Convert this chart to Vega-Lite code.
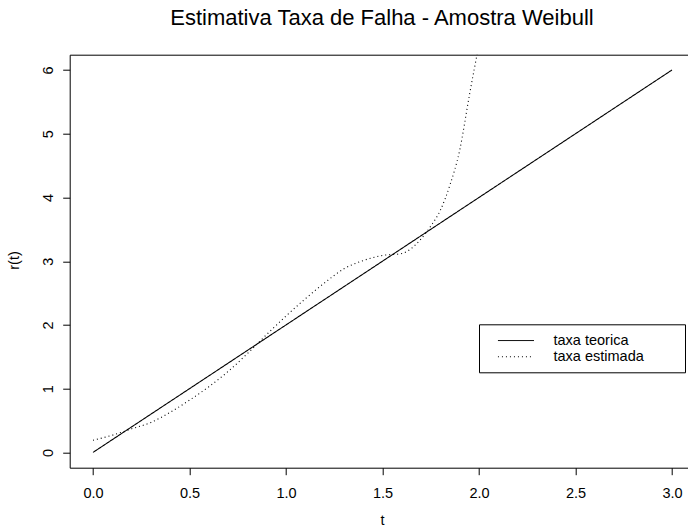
{
  "$schema": "https://vega.github.io/schema/vega-lite/v6.json",
  "autosize": {"type": "none"},
  "width": 618.3,
  "height": 413,
  "padding": {"left": 69.7, "top": 54.7, "right": 0, "bottom": 60.3},
  "background": "white",
  "config": {
    "view": {"stroke": null},
    "font": "Liberation Sans",
    "axis": {
      "domainColor": "black",
      "domainWidth": 1,
      "tickColor": "black",
      "tickWidth": 1,
      "tickSize": 7,
      "labelColor": "black",
      "labelFont": "Liberation Sans",
      "labelFontSize": 14.5,
      "titleColor": "black",
      "titleFont": "Liberation Sans",
      "titleFontSize": 14.5,
      "titleFontWeight": "normal",
      "grid": false
    },
    "legend": {
      "orient": "none",
      "strokeColor": "black",
      "fillColor": "white",
      "padding": 9,
      "cornerRadius": 0,
      "symbolType": "M-3,0H3",
      "symbolSize": 144,
      "symbolStrokeWidth": 1,
      "symbolOffset": 20.7,
      "labelFont": "Liberation Sans",
      "labelFontSize": 14.5,
      "labelColor": "black",
      "labelOffset": 30.3,
      "rowPadding": 1.2
    }
  },
  "title": {
    "text": "Estimativa Taxa de Falha - Amostra Weibull",
    "font": "Liberation Sans",
    "fontSize": 22,
    "fontWeight": "normal",
    "color": "black",
    "anchor": "middle",
    "frame": "group",
    "baseline": "middle",
    "offset": 2,
    "dx": 3.1
  },
  "datasets": {
    "curves": [
      {"t": 0.0, "r": 0.0, "serie": "taxa teorica"},
      {"t": 0.5, "r": 1.0, "serie": "taxa teorica"},
      {"t": 1.0, "r": 2.0, "serie": "taxa teorica"},
      {"t": 1.5, "r": 3.0, "serie": "taxa teorica"},
      {"t": 2.0, "r": 4.0, "serie": "taxa teorica"},
      {"t": 2.5, "r": 5.0, "serie": "taxa teorica"},
      {"t": 3.0, "r": 6.0, "serie": "taxa teorica"},
      {"t": 0.0, "r": 0.19, "serie": "taxa estimada"},
      {"t": 0.1, "r": 0.27, "serie": "taxa estimada"},
      {"t": 0.2, "r": 0.37, "serie": "taxa estimada"},
      {"t": 0.3, "r": 0.47, "serie": "taxa estimada"},
      {"t": 0.4, "r": 0.63, "serie": "taxa estimada"},
      {"t": 0.5, "r": 0.82, "serie": "taxa estimada"},
      {"t": 0.6, "r": 1.03, "serie": "taxa estimada"},
      {"t": 0.7, "r": 1.27, "serie": "taxa estimada"},
      {"t": 0.8, "r": 1.55, "serie": "taxa estimada"},
      {"t": 0.9, "r": 1.85, "serie": "taxa estimada"},
      {"t": 1.0, "r": 2.14, "serie": "taxa estimada"},
      {"t": 1.1, "r": 2.41, "serie": "taxa estimada"},
      {"t": 1.2, "r": 2.66, "serie": "taxa estimada"},
      {"t": 1.3, "r": 2.88, "serie": "taxa estimada"},
      {"t": 1.4, "r": 3.01, "serie": "taxa estimada"},
      {"t": 1.5, "r": 3.09, "serie": "taxa estimada"},
      {"t": 1.6, "r": 3.12, "serie": "taxa estimada"},
      {"t": 1.65, "r": 3.2, "serie": "taxa estimada"},
      {"t": 1.7, "r": 3.35, "serie": "taxa estimada"},
      {"t": 1.75, "r": 3.55, "serie": "taxa estimada"},
      {"t": 1.8, "r": 3.8, "serie": "taxa estimada"},
      {"t": 1.85, "r": 4.2, "serie": "taxa estimada"},
      {"t": 1.9, "r": 4.74, "serie": "taxa estimada"},
      {"t": 1.95, "r": 5.6, "serie": "taxa estimada"},
      {"t": 2.0, "r": 6.4, "serie": "taxa estimada"}
    ]
  },
  "data": {"name": "curves"},
  "layer": [
    {
      "mark": {"type": "line", "strokeWidth": 1.1, "interpolate": "monotone", "clip": true},
      "encoding": {
        "x": {
          "field": "t",
          "type": "quantitative",
          "scale": {"domain": [-0.1207, 3.083], "nice": false, "zero": false},
          "axis": {
            "values": [0, 0.5, 1, 1.5, 2, 2.5, 3],
            "format": ".1f",
            "labelBaseline": "middle",
            "labelPadding": 18.3,
            "labelFlush": false,
            "labelOverlap": false,
            "title": "t",
            "titleX": 312.3,
            "titleY": 52.3,
            "titleBaseline": "middle",
            "titleAlign": "center"
          }
        },
        "y": {
          "field": "r",
          "type": "quantitative",
          "scale": {"domain": [-0.24, 6.24], "nice": false, "zero": false},
          "axis": {
            "values": [0, 1, 2, 3, 4, 5, 6],
            "labelAngle": 270,
            "labelAlign": "center",
            "labelBaseline": "middle",
            "labelPadding": 13.7,
            "labelFlush": false,
            "labelOverlap": false,
            "title": "r(t)",
            "titleAngle": 270,
            "titleX": -54.7,
            "titleY": 205.3,
            "titleBaseline": "middle",
            "titleAlign": "center"
          }
        },
        "color": {
          "field": "serie",
          "type": "nominal",
          "scale": {"domain": ["taxa teorica", "taxa estimada"], "range": ["black", "black"]},
          "legend": {
            "legendX": 409.3,
            "legendY": 269.6,
            "title": " ",
            "titleOrient": "right",
            "titlePadding": 31.5,
            "titleFontSize": 10
          }
        },
        "strokeDash": {
          "field": "serie",
          "type": "nominal",
          "scale": {"domain": ["taxa teorica", "taxa estimada"], "range": [[1, 0], [1, 3]]},
          "legend": {
            "legendX": 409.3,
            "legendY": 269.6,
            "title": " ",
            "titleOrient": "right",
            "titlePadding": 31.5,
            "titleFontSize": 10
          }
        }
      }
    },
    {
      "mark": {"type": "point", "opacity": 0},
      "encoding": {
        "x": {
          "field": "t",
          "type": "quantitative",
          "axis": {"orient": "top", "ticks": false, "labels": false, "title": null, "domain": true}
        },
        "y": {"field": "r", "type": "quantitative", "axis": null}
      }
    }
  ],
  "resolve": {"axis": {"x": "independent", "y": "independent"}}
}
